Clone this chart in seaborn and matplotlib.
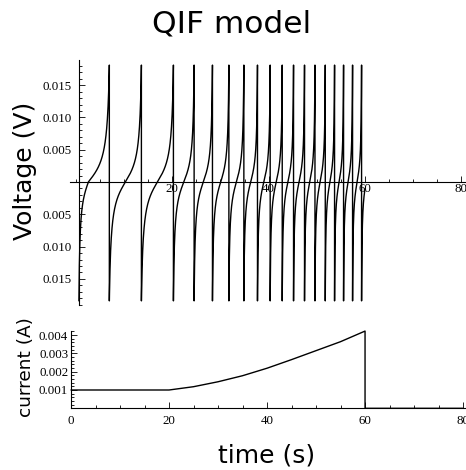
import numpy as np
import pandas as pd
import matplotlib
matplotlib.use("Agg")
import matplotlib.pyplot as plt
import seaborn as sns
from matplotlib.ticker import MultipleLocator, FixedLocator

# ---- data ----
spike_times = [6.92, 13.58, 20.23, 24.53, 28.34, 31.75, 34.86, 37.69, 40.33,
               42.83, 45.18, 47.46, 49.63, 51.77, 53.70, 55.57, 57.44, 59.31]
trace_start = 0.6
first_crossing = 2.56
trace_end = 60.0
v_peak = 0.0181
v_reset = -0.0184

current_t = [0, 20, 25, 30, 35, 40, 45, 50, 55, 60, 60, 80]
current_i = [0.001, 0.001, 0.00118, 0.00145, 0.00178, 0.00219, 0.00266,
             0.00315, 0.00364, 0.00422, 0.0, 0.0]

v_ticks = [-0.015, -0.010, -0.005, 0.005, 0.010, 0.015]
v_ticklabels = ["0.015", "0.010", "0.005", "0.005", "0.010", "0.015"]
t_ticks_top = [20, 40, 60, 80]
t_ticks_bottom = [0, 20, 40, 60, 80]
i_ticks = [0.001, 0.002, 0.003, 0.004]
i_ticklabels = ["0.001", "0.002", "0.003", "0.004"]

# ---- build QIF-shaped voltage trace between the read spike times ----
theta = 1.41
starts = [trace_start] + spike_times[:-1]
ends = spike_times
crossings = [first_crossing] + [(a + b) / 2 for a, b in zip(spike_times[:-1], spike_times[1:])]
ts, vs = [], []
for s, c, e in zip(starts, crossings, ends):
    ph = np.linspace(-theta, 0, 150)
    ts.extend(c + ph / theta * (c - s)); vs.extend(-v_reset * np.tan(ph) / np.tan(theta))
    ph = np.linspace(0, theta, 150)[1:]
    ts.extend(c + ph / theta * (e - c)); vs.extend(v_peak * np.tan(ph) / np.tan(theta))
# last partial segment after final spike, until the current is switched off
half = (spike_times[-1] - spike_times[-2]) / 2
c = spike_times[-1] + half
ph = np.linspace(-theta, theta * (trace_end - c) / half, 100)
ts.extend(c + ph / theta * half); vs.extend(-v_reset * np.tan(ph) / np.tan(theta))
volt_df = pd.DataFrame({"t": ts, "V": vs})
cur_df = pd.DataFrame({"t": current_t, "I": current_i})

# ---- plotting ----
sns.set_style("white")
plt.rcParams["font.family"] = ["Liberation Serif", "DejaVu Sans"]
plt.rcParams["axes.linewidth"] = 0.8
plt.rcParams["axes.edgecolor"] = "black"
plt.rcParams["text.color"] = "black"

W, H = 466, 470
fig = plt.figure(figsize=(W / 100, H / 100), dpi=100)


def style_axes(ax, xpad, ypad):
    ax.spines["top"].set_visible(False)
    ax.spines["right"].set_visible(False)
    for sp in ("left", "bottom"):
        ax.spines[sp].set_color("black")
        ax.spines[sp].set_linewidth(0.8)
    ax.tick_params(which="both", direction="in", width=0.6, labelsize=9.3,
                   colors="black", bottom=True, left=True, top=False, right=False)
    ax.tick_params(which="major", length=4)
    ax.tick_params(which="minor", length=2)
    ax.tick_params(axis="x", pad=xpad)
    ax.tick_params(axis="y", pad=ypad)
    ax.set_xlabel("")
    ax.set_ylabel("")


# top panel
ax1 = fig.add_axes([70 / W, 1 - 305 / H, 396 / W, 245 / H])
sns.lineplot(data=volt_df, x="t", y="V", sort=False, estimator=None,
             color="black", lw=1.0, ax=ax1)
ax1.set_xlim(-1.25, 81.0)
ax1.set_ylim(-0.01904, 0.01889)
ax1.spines["left"].set_position(("data", trace_start))
ax1.spines["bottom"].set_position(("data", 0))
ax1.xaxis.set_major_locator(FixedLocator(t_ticks_top))
ax1.set_xticklabels([str(v) for v in t_ticks_top])
ax1.xaxis.set_minor_locator(MultipleLocator(5))
ax1.yaxis.set_major_locator(FixedLocator(v_ticks))
ax1.set_yticklabels(v_ticklabels)
ax1.yaxis.set_minor_locator(MultipleLocator(0.001))
style_axes(ax1, 1, 5)

# bottom panel
ax2 = fig.add_axes([71 / W, 1 - 408.3 / H, 395 / W, 77.6 / H])
sns.lineplot(data=cur_df, x="t", y="I", sort=False, estimator=None,
             color="black", lw=1.0, ax=ax2)
for l in ax2.lines:
    l.set_clip_on(False)
ax2.set_xlim(0, 80.6)
ax2.set_ylim(0, 0.00424)
ax2.xaxis.set_major_locator(FixedLocator(t_ticks_bottom))
ax2.set_xticklabels([str(v) for v in t_ticks_bottom])
ax2.xaxis.set_minor_locator(MultipleLocator(5))
ax2.yaxis.set_major_locator(FixedLocator(i_ticks))
ax2.set_yticklabels(i_ticklabels)
ax2.yaxis.set_minor_locator(MultipleLocator(0.0002))
style_axes(ax2, 5, 2)

# texts
fig.text(231.7 / W, 1 - 24 / H, "QIF model", family="DejaVu Sans", fontsize=22.5,
         ha="center", va="center", color="black")
fig.text(25 / W, 1 - 171 / H, "Voltage (V)", family="DejaVu Sans", fontsize=18,
         rotation=90, ha="center", va="center", color="black")
fig.text(26 / W, 1 - 366.7 / H, "current (A)", family="DejaVu Sans", fontsize=13.3,
         rotation=90, ha="center", va="center", color="black")
fig.text(266.7 / W, 1 - 456 / H, "time (s)", family="DejaVu Sans", fontsize=18,
         ha="center", va="center", color="black")

fig.savefig("out.png", dpi=100, facecolor="white")
